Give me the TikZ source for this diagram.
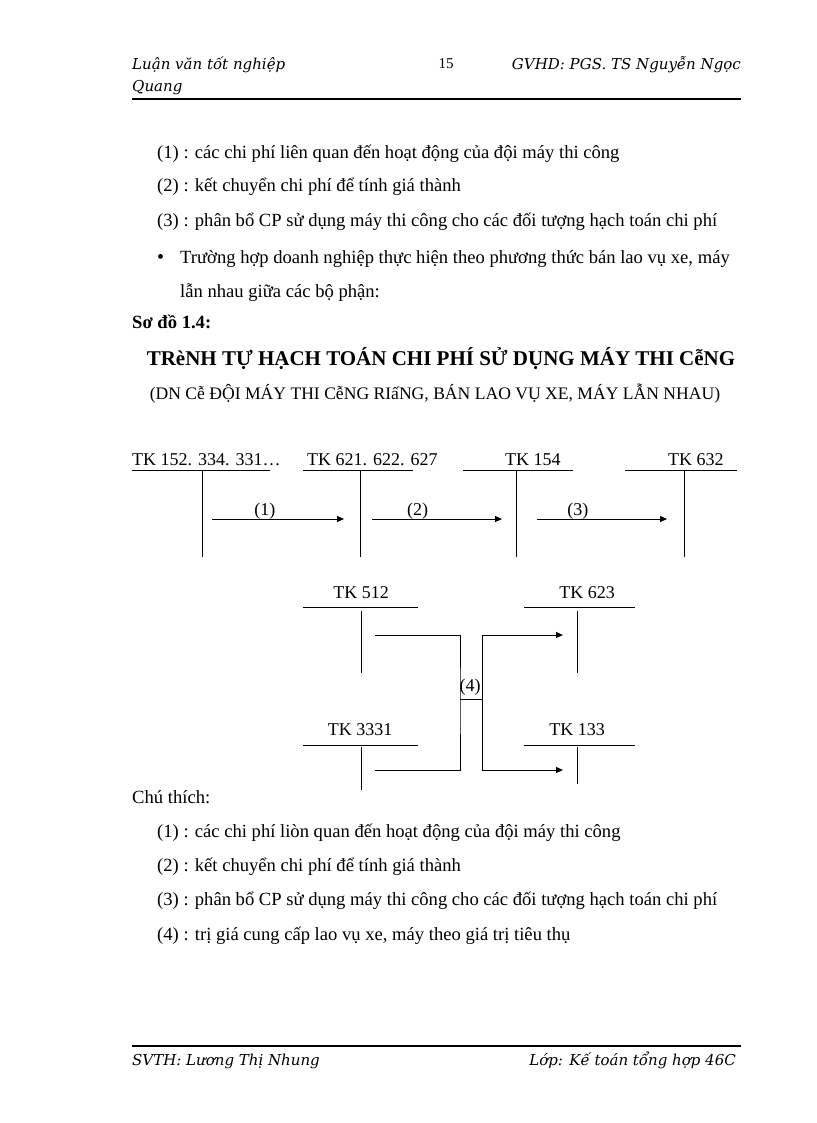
\documentclass[tikz,border=0pt]{standalone}
\usepackage{fontspec}
\setmainfont{Liberation Serif}
\newfontfamily\hdrfont{DejaVu Serif}
\usetikzlibrary{arrows.meta}
\tikzset{
  body/.style={anchor=base west, inner sep=0pt, font=\fontsize{18.6}{22}\selectfont},
  dlbl/.style={anchor=base west, inner sep=0pt, font=\fontsize{18}{21}\selectfont},
  lbl/.style={anchor=base, inner sep=0pt, font=\fontsize{18}{21}\selectfont},
  hdr/.style={anchor=base west, inner sep=0pt, font=\hdrfont\itshape\fontsize{15}{18}\selectfont},
  acc/.style={line width=1pt},
  flow/.style={line width=1pt, -{Triangle[length=7pt,width=6pt]}},
  rule/.style={line width=2pt}
}
\begin{document}
\begin{tikzpicture}[x=1pt,y=-1pt]
\useasboundingbox (0,0) rectangle (816,1123);
% header
\node[hdr] (h1) at (132,70) {Luận văn tốt nghiệp};
\node[hdr] (h2) at (132,92) {Quang};
\node[anchor=base, inner sep=0pt, font=\fontsize{15}{18}\selectfont] (hp) at (446,69) {15};
\node[hdr, anchor=base east] (h3) at (741,70) {GVHD: PGS. TS Nguyễn Ngọc};
\coordinate (hr1) at (132,99); \coordinate (hr2) at (741,99);
\draw[rule] (hr1) -- (hr2);
% body
\node[body] (t1) at (157,159) {(1) : các chi phí liên quan đến hoạt động của đội máy thi công};
\node[body] (t2) at (157,192) {(2) : kết chuyển chi phí để tính giá thành};
\node[body] (t3) at (157,226) {(3) : phân bổ CP sử dụng máy thi công cho các đối tượng hạch toán chi phí};
\node[body, font=\fontsize{20}{22}\selectfont] (bul) at (157,263) {•};
\node[body] (t4) at (180,263) {Trường hợp doanh nghiệp thực hiện theo phương thức bán lao vụ xe, máy};
\node[body] (t5) at (180,297) {lẫn nhau giữa các bộ phận:};
\node[body, font=\bfseries\fontsize{18.6}{22}\selectfont] (so) at (132,328) {Sơ đồ 1.4:};
\node[anchor=base, inner sep=0pt, font=\bfseries\fontsize{21}{24}\selectfont] (title) at (441,365) {TRèNH TỰ HẠCH TOÁN CHI PHÍ SỬ DỤNG MÁY THI CễNG};
\node[anchor=base, inner sep=0pt, font=\fontsize{17.6}{20}\selectfont] (sub) at (435,399) {(DN Cễ ĐỘI MÁY THI CễNG RIấNG, BÁN LAO VỤ XE, MÁY LẪN NHAU)};
% top row accounts
\node[dlbl] (a1) at (132,465) {TK 152. 334. 331…};
\node[dlbl] (a2) at (307,465) {TK 621. 622. 627};
\node[dlbl] (a3) at (505,465) {TK 154};
\node[dlbl] (a4) at (668,465) {TK 632};
\coordinate (a1l) at (132,470); \coordinate (a1r) at (270,470);
\coordinate (a2l) at (303,470); \coordinate (a2r) at (413,470);
\coordinate (a3l) at (463,470); \coordinate (a3r) at (573,470);
\coordinate (a4l) at (625,470); \coordinate (a4r) at (737,470);
\draw[acc] (a1l) -- (a1r); \draw[acc] (a2l) -- (a2r);
\draw[acc] (a3l) -- (a3r); \draw[acc] (a4l) -- (a4r);
\coordinate (v1t) at (202,470); \coordinate (v1b) at (202,557);
\coordinate (v2t) at (360,470); \coordinate (v2b) at (360,557);
\coordinate (v3t) at (516,470); \coordinate (v3b) at (516,557);
\coordinate (v4t) at (684,470); \coordinate (v4b) at (684,557);
\draw[acc] (v1t) -- (v1b); \draw[acc] (v2t) -- (v2b);
\draw[acc] (v3t) -- (v3b); \draw[acc] (v4t) -- (v4b);
\coordinate (f1s) at (212,519); \coordinate (f1e) at (344,519);
\coordinate (f2s) at (372,519); \coordinate (f2e) at (502,519);
\coordinate (f3s) at (537,519); \coordinate (f3e) at (667,519);
\draw[flow] (f1s) -- node[lbl, pos=0.40, anchor=base, yshift=4pt] (l1) {(1)} (f1e);
\draw[flow] (f2s) -- node[lbl, pos=0.35, anchor=base, yshift=4pt] (l2) {(2)} (f2e);
\draw[flow] (f3s) -- node[lbl, pos=0.315, anchor=base, yshift=4pt] (l3) {(3)} (f3e);
% bottom accounts
\node[lbl] (b1) at (361,598) {TK 512};
\node[lbl] (b2) at (587,598) {TK 623};
\node[lbl] (b3) at (360,735) {TK 3331};
\node[lbl] (b4) at (577,735) {TK 133};
\coordinate (b1l) at (303,607); \coordinate (b1r) at (418,607);
\coordinate (b2l) at (524,607); \coordinate (b2r) at (635,607);
\coordinate (b3l) at (303,745); \coordinate (b3r) at (418,745);
\coordinate (b4l) at (524,745); \coordinate (b4r) at (635,745);
\draw[acc] (b1l) -- (b1r); \draw[acc] (b2l) -- (b2r);
\draw[acc] (b3l) -- (b3r); \draw[acc] (b4l) -- (b4r);
\coordinate (w1t) at (361,611); \coordinate (w1b) at (361,673);
\coordinate (w2t) at (577,611); \coordinate (w2b) at (577,673);
\coordinate (w3t) at (361,747); \coordinate (w3b) at (361,790);
\coordinate (w4t) at (577,747); \coordinate (w4b) at (577,784);
\draw[acc] (w1t) -- (w1b); \draw[acc] (w2t) -- (w2b);
\draw[acc] (w3t) -- (w3b); \draw[acc] (w4t) -- (w4b);
% connector (4)
\coordinate (c1) at (375,635); \coordinate (c2) at (375,770);
\coordinate (jl) at (460,699); \coordinate (jr) at (482,699);
\coordinate (e1) at (563,635); \coordinate (e2) at (563,770);
\draw[acc] (c1) -| (jl) |- (c2);
\draw[acc] (jl) -- (jr);
\draw[flow] (jr) |- (e1);
\draw[flow] (jr) |- (e2);
\node[lbl] (l4) at (470,691) {(4)};
% legend
\node[body] (ch) at (132,803) {Chú thích:};
\node[body] (g1) at (157,837) {(1) : các chi phí liòn quan đến hoạt động của đội máy thi công};
\node[body] (g2) at (157,871) {(2) : kết chuyển chi phí để tính giá thành};
\node[body] (g3) at (157,905) {(3) : phân bổ CP sử dụng máy thi công cho các đối tượng hạch toán chi phí};
\node[body] (g4) at (157,940) {(4) : trị giá cung cấp lao vụ xe, máy theo giá trị tiêu thụ};
% footer
\coordinate (fr1) at (132,1046); \coordinate (fr2) at (741,1046);
\draw[rule] (fr1) -- (fr2);
\node[hdr] (s1) at (132,1065) {SVTH: Lương Thị Nhung};
\node[hdr, anchor=base east] (s2) at (736,1065) {Lớp: Kế toán tổng hợp 46C};
\end{tikzpicture}
\end{document}
